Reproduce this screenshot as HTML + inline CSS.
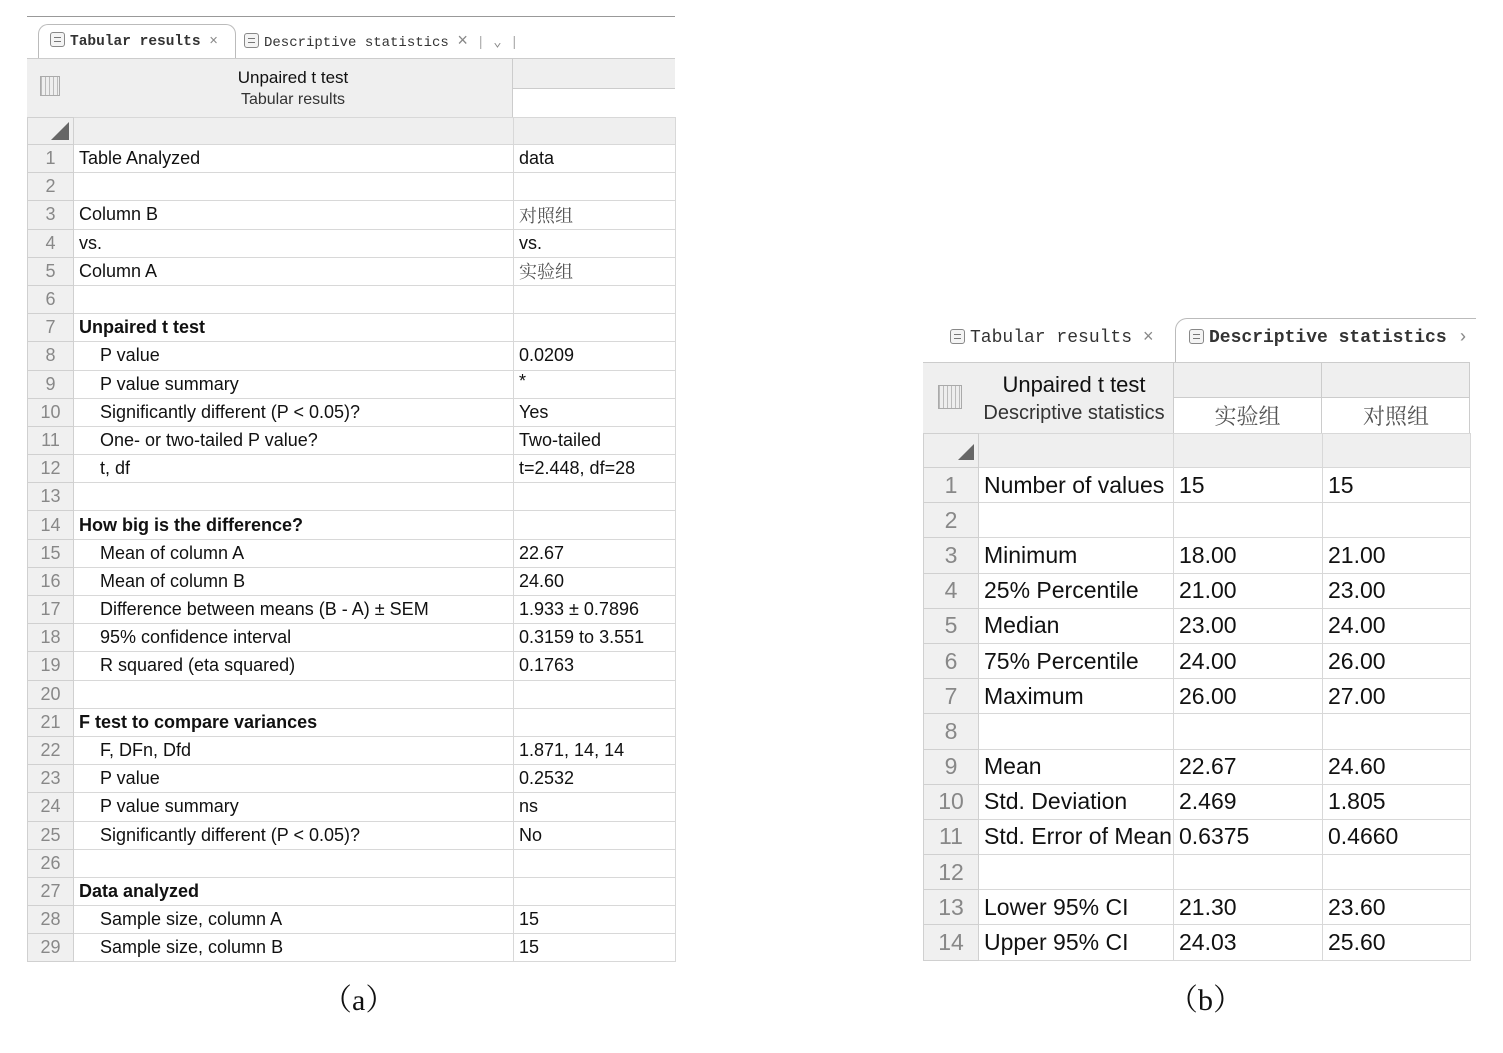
<!DOCTYPE html>
<html><head><meta charset="utf-8"><style>
body{margin:0;width:1503px;height:1053px;background:#fff;position:relative;overflow:hidden;font-family:"Liberation Sans","Noto Sans CJK SC",sans-serif;color:#111}
.abs{position:absolute}
table{border-collapse:collapse;table-layout:fixed;position:absolute}
td{border:1px solid #d8d8d8;padding:0 0 0 5px;white-space:nowrap;overflow:hidden;vertical-align:middle}
td.n{background:#f0f0f0;color:#888;text-align:center;padding:0;border-color:#d0d0d0}
td.g{background:#efefef}
.ind{padding-left:26px}
b{font-weight:bold}
.cjk{font-family:"Noto Serif CJK SC",serif;color:#555}
.tab{position:absolute;font-family:"Liberation Mono","Noto Sans CJK SC",monospace;color:#333}
.ic{display:inline-block;width:13px;height:13px;border:1.5px solid #888;border-radius:3px;vertical-align:-2px;margin-right:5px;background:#f4f4f4;position:relative}
.ic:after{content:"";position:absolute;left:3px;right:3px;top:4px;height:3px;border-top:1px solid #777;border-bottom:1px solid #777}
.cap{position:absolute;font-family:"Liberation Serif","Noto Serif CJK SC",serif;font-size:30px;color:#111}
</style></head><body>
<!-- LEFT -->
<div class="abs" style="left:27px;top:16px;width:648px;height:1px;background:#999"></div>
<div class="abs" style="left:38px;top:24px;width:196px;height:35px;border:1px solid #bbb;border-bottom:none;border-radius:10px 10px 0 0;background:#fff"></div>
<div class="tab" style="left:50px;top:32px;font-size:14.5px"><span class="ic"></span><b>Tabular results</b> <span style="color:#888">×</span></div>
<div class="tab" style="left:244px;top:32px;font-size:14px"><span class="ic"></span>Descriptive statistics <span style="color:#888;font-size:18px">×</span> <span style="color:#aaa">|</span> <span style="color:#888">⌄</span> <span style="color:#aaa">|</span></div>
<div class="abs" style="left:27px;top:58px;width:648px;height:59px;background:#efefef;border-top:1px solid #ccc;border-bottom:1px solid #ccc"></div>
<div class="abs" style="left:512px;top:58px;width:1px;height:59px;background:#ccc"></div>
<div class="abs" style="left:513px;top:88px;width:162px;height:29px;background:#fff;border-top:1px solid #ccc"></div>
<div class="abs" style="left:40px;top:76px;width:18px;height:18px;background:repeating-linear-gradient(90deg,#bbb 0 1px,#eee 1px 4px),#eee;border:1px solid #aaa"></div>
<div class="abs" style="left:73px;top:67px;width:440px;text-align:center;font-size:17px;line-height:21px">Unpaired t test<br><span style="font-size:16px;color:#333">Tabular results</span></div>
<table style="left:27px;top:117px;width:648px;font-size:18px">
<colgroup><col style="width:46px"><col style="width:440px"><col style="width:162px"></colgroup>
<tr style="height:27px"><td class="n" style="background:#efefef;text-align:right;padding-right:4px;color:#666">◢</td><td class="g"></td><td class="g"></td></tr>
<tr style="height:28.2px"><td class="n">1</td><td>Table Analyzed</td><td>data</td></tr>
<tr style="height:28.2px"><td class="n">2</td><td></td><td></td></tr>
<tr style="height:28.2px"><td class="n">3</td><td>Column B</td><td class="cjk">对照组</td></tr>
<tr style="height:28.2px"><td class="n">4</td><td>vs.</td><td>vs.</td></tr>
<tr style="height:28.2px"><td class="n">5</td><td>Column A</td><td class="cjk">实验组</td></tr>
<tr style="height:28.2px"><td class="n">6</td><td></td><td></td></tr>
<tr style="height:28.2px"><td class="n">7</td><td><b>Unpaired t test</b></td><td></td></tr>
<tr style="height:28.2px"><td class="n">8</td><td class="ind">P value</td><td>0.0209</td></tr>
<tr style="height:28.2px"><td class="n">9</td><td class="ind">P value summary</td><td style="vertical-align:top">*</td></tr>
<tr style="height:28.2px"><td class="n">10</td><td class="ind">Significantly different (P &lt; 0.05)?</td><td>Yes</td></tr>
<tr style="height:28.2px"><td class="n">11</td><td class="ind">One- or two-tailed P value?</td><td>Two-tailed</td></tr>
<tr style="height:28.2px"><td class="n">12</td><td class="ind">t, df</td><td>t=2.448, df=28</td></tr>
<tr style="height:28.2px"><td class="n">13</td><td></td><td></td></tr>
<tr style="height:28.2px"><td class="n">14</td><td><b>How big is the difference?</b></td><td></td></tr>
<tr style="height:28.2px"><td class="n">15</td><td class="ind">Mean of column A</td><td>22.67</td></tr>
<tr style="height:28.2px"><td class="n">16</td><td class="ind">Mean of column B</td><td>24.60</td></tr>
<tr style="height:28.2px"><td class="n">17</td><td class="ind">Difference between means (B - A) ± SEM</td><td>1.933 ± 0.7896</td></tr>
<tr style="height:28.2px"><td class="n">18</td><td class="ind">95% confidence interval</td><td>0.3159 to 3.551</td></tr>
<tr style="height:28.2px"><td class="n">19</td><td class="ind">R squared (eta squared)</td><td>0.1763</td></tr>
<tr style="height:28.2px"><td class="n">20</td><td></td><td></td></tr>
<tr style="height:28.2px"><td class="n">21</td><td><b>F test to compare variances</b></td><td></td></tr>
<tr style="height:28.2px"><td class="n">22</td><td class="ind">F, DFn, Dfd</td><td>1.871, 14, 14</td></tr>
<tr style="height:28.2px"><td class="n">23</td><td class="ind">P value</td><td>0.2532</td></tr>
<tr style="height:28.2px"><td class="n">24</td><td class="ind">P value summary</td><td>ns</td></tr>
<tr style="height:28.2px"><td class="n">25</td><td class="ind">Significantly different (P &lt; 0.05)?</td><td>No</td></tr>
<tr style="height:28.2px"><td class="n">26</td><td></td><td></td></tr>
<tr style="height:28.2px"><td class="n">27</td><td><b>Data analyzed</b></td><td></td></tr>
<tr style="height:28.2px"><td class="n">28</td><td class="ind">Sample size, column A</td><td>15</td></tr>
<tr style="height:28.2px"><td class="n">29</td><td class="ind">Sample size, column B</td><td>15</td></tr>
</table>
<div class="abs" style="left:27px;top:962px;width:650px;height:20px;background:#fff"></div>

<!-- RIGHT -->
<div class="tab" style="left:950px;top:328px;font-size:18px"><span class="ic"></span>Tabular results <span style="color:#888">×</span></div>
<div class="abs" style="left:1175px;top:318px;width:300px;height:44px;border:1px solid #bbb;border-bottom:none;border-right:none;border-radius:12px 0 0 0;background:#fff"></div>
<div class="tab" style="left:1189px;top:328px;font-size:18px;white-space:nowrap;width:282px;overflow:hidden"><span class="ic"></span><b>Descriptive statistics</b> <span style="color:#888">›</span></div>
<div class="abs" style="left:923px;top:362px;width:547px;height:71px;background:#efefef;border-top:1px solid #ccc"></div>
<div class="abs" style="left:1173px;top:397px;width:297px;height:36px;background:#fff;border-top:1px solid #ccc"></div>
<div class="abs" style="left:1173px;top:362px;width:1px;height:71px;background:#ccc"></div>
<div class="abs" style="left:1321px;top:362px;width:1px;height:71px;background:#ccc"></div>
<div class="abs" style="left:1469px;top:362px;width:1px;height:71px;background:#ccc"></div>
<div class="abs" style="left:938px;top:385px;width:22px;height:22px;background:repeating-linear-gradient(90deg,#bbb 0 1px,#eee 1px 4px),#eee;border:1px solid #aaa"></div>
<div class="abs" style="left:975px;top:371px;width:198px;text-align:center;font-size:22px;line-height:27px">Unpaired t test<br><span style="font-size:20px;color:#333">Descriptive statistics</span></div>
<div class="abs cjk" style="left:1173px;top:400px;width:149px;text-align:center;font-size:22px">实验组</div>
<div class="abs cjk" style="left:1322px;top:400px;width:148px;text-align:center;font-size:22px">对照组</div>
<table style="left:923px;top:433px;width:547px;font-size:23px">
<colgroup><col style="width:55px"><col style="width:195px"><col style="width:149px"><col style="width:148px"></colgroup>
<tr style="height:34px"><td class="n" style="background:#efefef;text-align:right;padding-right:4px;color:#666;font-size:16px">◢</td><td class="g"></td><td class="g"></td><td class="g"></td></tr>
<tr style="height:35.2px"><td class="n">1</td><td>Number of values</td><td>15</td><td>15</td></tr>
<tr style="height:35.2px"><td class="n">2</td><td></td><td></td><td></td></tr>
<tr style="height:35.2px"><td class="n">3</td><td>Minimum</td><td>18.00</td><td>21.00</td></tr>
<tr style="height:35.2px"><td class="n">4</td><td>25% Percentile</td><td>21.00</td><td>23.00</td></tr>
<tr style="height:35.2px"><td class="n">5</td><td>Median</td><td>23.00</td><td>24.00</td></tr>
<tr style="height:35.2px"><td class="n">6</td><td>75% Percentile</td><td>24.00</td><td>26.00</td></tr>
<tr style="height:35.2px"><td class="n">7</td><td>Maximum</td><td>26.00</td><td>27.00</td></tr>
<tr style="height:35.2px"><td class="n">8</td><td></td><td></td><td></td></tr>
<tr style="height:35.2px"><td class="n">9</td><td>Mean</td><td>22.67</td><td>24.60</td></tr>
<tr style="height:35.2px"><td class="n">10</td><td>Std. Deviation</td><td>2.469</td><td>1.805</td></tr>
<tr style="height:35.2px"><td class="n">11</td><td style="text-overflow:clip">Std. Error of Mean</td><td>0.6375</td><td>0.4660</td></tr>
<tr style="height:35.2px"><td class="n">12</td><td></td><td></td><td></td></tr>
<tr style="height:35.2px"><td class="n">13</td><td>Lower 95% CI</td><td>21.30</td><td>23.60</td></tr>
<tr style="height:35.2px"><td class="n">14</td><td>Upper 95% CI</td><td>24.03</td><td>25.60</td></tr>
</table>
<div class="abs" style="left:920px;top:961px;width:560px;height:20px;background:#fff"></div>

<div class="cap" style="left:322px;top:975px">（a）</div>
<div class="cap" style="left:1168px;top:975px">（b）</div>
</body></html>
